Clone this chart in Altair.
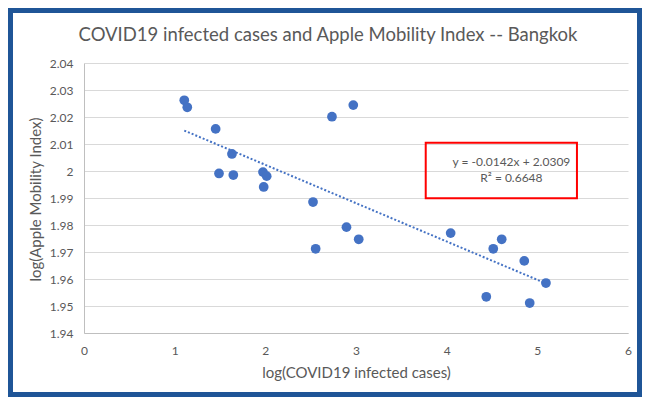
import altair as alt
import pandas as pd

# ---- data ----
cases_log = [1.106, 1.139, 1.452, 1.632, 1.489, 1.647, 1.974, 2.015, 1.982, 2.526, 2.735,
             2.970, 2.895, 3.030, 2.555, 4.044, 4.514, 4.607, 4.856, 5.095, 4.437, 4.916]
mobility_log = [2.0262, 2.0236, 2.0156, 2.0063, 1.9991, 1.9985, 1.9996, 1.9981, 1.9941, 1.9885, 2.0201,
                2.0244, 1.9792, 1.9747, 1.9712, 1.9770, 1.9712, 1.9747, 1.9667, 1.9585, 1.9534, 1.9511]

x_ticks = [0, 1, 2, 3, 4, 5, 6]
y_ticks = [1.94, 1.95, 1.96, 1.97, 1.98, 1.99, 2.00, 2.01, 2.02, 2.03, 2.04]

eq_lines = ["y = -0.0142x + 2.0309", "R² = 0.6648"]
eq_x = [4.714, 4.714]
eq_y = [2.0034, 1.9975]
box_x = [3.769, 5.437]
box_y = [2.0105, 1.9899]

title_text = "COVID19 infected cases and Apple Mobility Index -- Bangkok"
x_title = "log(COVID19 infected cases)"
y_title = "log(Apple Mobility Index)"

FONT = "Lato"
GREY = "#595959"
BLUE = "#4472C4"

pts = pd.DataFrame({"x": cases_log, "y": mobility_log})
eq = pd.DataFrame({"label": eq_lines, "x": eq_x, "y": eq_y})
box = pd.DataFrame({"x": [box_x[0]], "x2": [box_x[1]], "y": [box_y[0]], "y2": [box_y[1]]})
ttl = pd.DataFrame({"label": [title_text]})

xscale = alt.Scale(domain=[0, 6], nice=False)
yscale = alt.Scale(domain=[1.94, 2.04], nice=False, zero=False)

x_axis = alt.Axis(values=x_ticks, format="d", title=x_title, grid=False,
                  ticks=False, labelPadding=12, domainColor="#BFBFBF",
                  labelFlush=False, labelOverlap=False,
                  titleX=272, titleY=39, titleBaseline="middle", titleAlign="center")
y_axis = alt.Axis(values=y_ticks, format=".2~f", title=y_title, grid=True,
                  ticks=False, labelPadding=11, domainColor="#BFBFBF",
                  labelFlush=False, labelOverlap=False,
                  gridColor="#D9D9D9", titleX=-49, titleY=136,
                  titleBaseline="middle", titleAlign="center", titleAngle=-90)


def X():
    return alt.X("x:Q", scale=xscale, axis=x_axis)


def Y():
    return alt.Y("y:Q", scale=yscale, axis=y_axis)


points = alt.Chart(pts).mark_circle(size=95, color=BLUE, opacity=1).encode(x=X(), y=Y())

trend = alt.Chart(pts).transform_regression("x", "y").mark_line(
    color=BLUE, strokeDash=[2, 2], strokeWidth=2
).encode(x=X(), y=Y())

rect = alt.Chart(box).mark_rect(fillOpacity=0, stroke="#FF0000", strokeWidth=2).encode(
    x=X(), x2="x2:Q", y=Y(), y2="y2:Q")

texts = alt.Chart(eq).mark_text(font=FONT, fontSize=12, color=GREY, align="center",
                                baseline="middle").encode(x=X(), y=Y(), text="label:N")

title_mark = alt.Chart(ttl).mark_text(font=FONT, fontSize=18.5, color=GREY, align="center",
                                      baseline="middle").encode(
    x=alt.value(244), y=alt.value(-28), text="label:N")

frame = alt.Chart(pd.DataFrame({"k": [0]})).mark_rect(
    fillOpacity=0, stroke="#1F5597", strokeWidth=5
).encode(x=alt.value(-73.5), x2=alt.value(555.5), y=alt.value(-52.5), y2=alt.value(331.5))

chart = alt.layer(points, trend, rect, texts, title_mark, frame).properties(
    width=544, height=270,
    padding={"left": 76, "top": 55, "right": 14, "bottom": 64},
    autosize=alt.AutoSizeParams(type="none"),
    background="white",
).configure_view(stroke=None).configure_axis(
    labelFont=FONT, labelFontSize=12, labelColor=GREY,
    titleFont=FONT, titleFontSize=15, titleColor=GREY, titleFontWeight="normal",
)

chart.save("out.html", embed_options={"renderer": "svg", "actions": False})
